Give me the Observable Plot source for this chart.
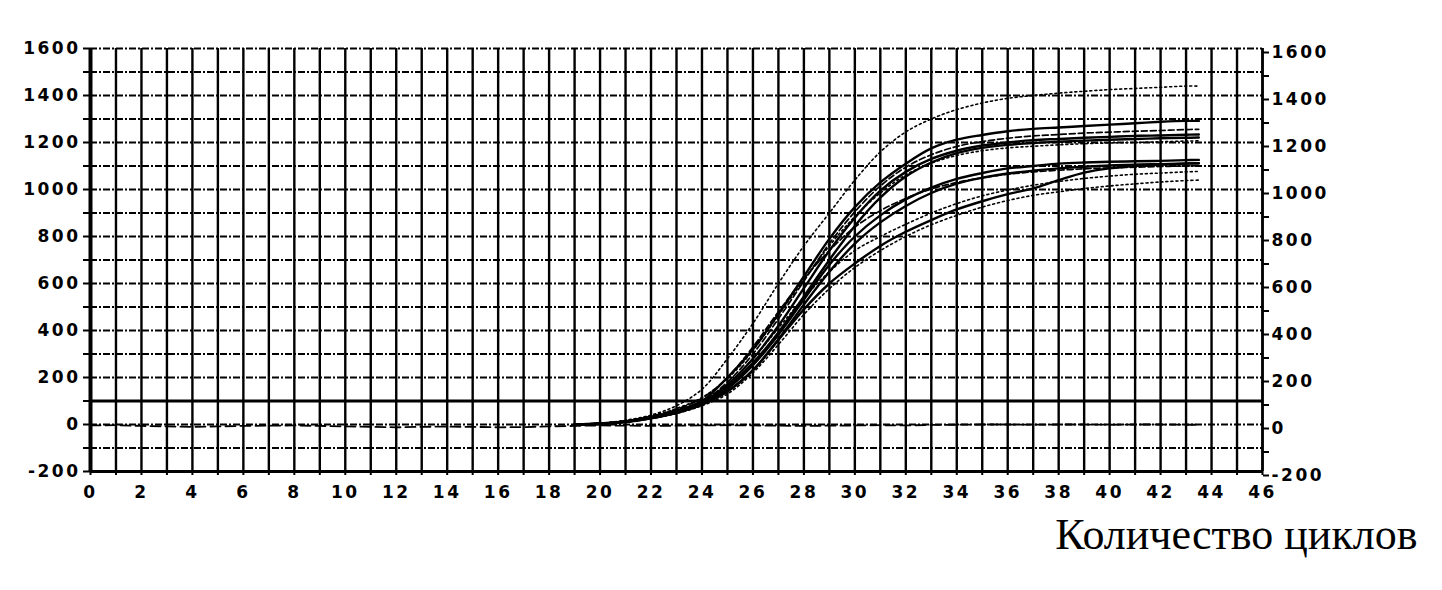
<!DOCTYPE html>
<html>
<head>
<meta charset="utf-8">
<script src="https://cdn.jsdelivr.net/npm/d3@7"></script>
<script src="https://cdn.jsdelivr.net/npm/@observablehq/plot@0.6"></script>
<style>
  html, body { margin: 0; padding: 0; background: #fff; }
  #chart svg { display: block; }
  g[aria-label$="tick label"] text { letter-spacing: 2.5px; }
</style>
</head>
<body>
<div id="chart"></div>
<script>
// ---- tick labels / axes ----
const xLabelTicks = [0, 2, 4, 6, 8, 10, 12, 14, 16, 18, 20, 22, 24, 26, 28, 30, 32, 34, 36, 38, 40, 42, 44, 46];
const yLabelTicks = [-200, 0, 200, 400, 600, 800, 1000, 1200, 1400, 1600];
const xGridLines = d3.range(0, 47, 1);
const yGridLines = d3.range(-200, 1601, 100);
const thresholdValue = [100];
const axisTitle = "Количество циклов";

// ---- data: fluorescence per cycle ----
const cycles = [19, 20, 21, 22, 23, 24, 25, 26, 27, 28, 29, 30, 31, 32, 33, 34, 35, 36, 37, 38, 39, 40, 41, 42, 43, 43.5];

const curveA = [0, 5, 18, 40, 80, 150, 280, 430, 600, 760, 900, 1040, 1160, 1245, 1300, 1340, 1368, 1388, 1400, 1410, 1418, 1425, 1430, 1435, 1440, 1440];
const curveB = [0, 4, 14, 32, 60, 100, 200, 320, 470, 630, 790, 925, 1030, 1110, 1175, 1212, 1232, 1248, 1258, 1264, 1270, 1276, 1282, 1288, 1292, 1292];
const curveC = [0, 4, 13, 30, 58, 98, 180, 300, 450, 610, 770, 905, 1015, 1095, 1148, 1183, 1204, 1218, 1228, 1234, 1240, 1244, 1248, 1251, 1255, 1256];
const curveD = [0, 3, 12, 30, 55, 95, 170, 280, 420, 580, 740, 880, 995, 1075, 1130, 1165, 1187, 1200, 1210, 1215, 1220, 1224, 1228, 1230, 1233, 1234];
const curveE = [0, 3, 12, 28, 53, 92, 160, 262, 392, 545, 700, 845, 965, 1055, 1115, 1155, 1177, 1190, 1198, 1203, 1208, 1212, 1215, 1218, 1220, 1221];
const curveF = [0, 5, 16, 36, 68, 115, 195, 315, 465, 615, 760, 885, 985, 1062, 1112, 1145, 1165, 1177, 1184, 1190, 1195, 1198, 1200, 1203, 1206, 1207];
const curveG = [0, 3, 11, 27, 52, 90, 152, 252, 382, 532, 680, 800, 890, 958, 1008, 1045, 1070, 1090, 1100, 1110, 1115, 1118, 1120, 1122, 1125, 1126];
const curveH = [0, 3, 10, 26, 50, 86, 142, 232, 362, 510, 650, 770, 860, 930, 985, 1025, 1050, 1068, 1080, 1090, 1097, 1102, 1106, 1108, 1111, 1112];
const curveI = [0, 4, 15, 35, 65, 112, 200, 330, 480, 620, 740, 840, 910, 962, 1002, 1030, 1050, 1065, 1075, 1082, 1088, 1092, 1095, 1098, 1100, 1101];
const curveJ = [0, 4, 13, 31, 58, 100, 170, 280, 410, 540, 650, 740, 800, 852, 900, 940, 973, 998, 1018, 1034, 1047, 1057, 1065, 1070, 1075, 1077];
const curveK = [0, 3, 12, 28, 50, 85, 140, 230, 360, 490, 600, 685, 760, 820, 870, 915, 950, 980, 1005, 1040, 1072, 1090, 1100, 1105, 1110, 1112];
const curveL = [0, 3, 10, 25, 47, 80, 130, 220, 340, 468, 578, 668, 740, 800, 850, 890, 925, 953, 975, 990, 1004, 1015, 1024, 1032, 1038, 1040];

const ntcCycles = [0, 1, 2, 3, 4, 5, 6, 7, 8, 9, 10, 11, 12, 13, 14, 15, 16, 17, 18, 19, 20, 21, 22, 23, 24, 25, 26, 27, 28, 29, 30, 31, 32, 33, 34, 35, 36, 37, 38, 39, 40, 41, 42, 43, 43.5];
const ntcValues = [-4, -3, -6, -8, -10, -8, -6, -5, -4, -6, -8, -10, -12, -10, -9, -10, -12, -11, -8, -6, -4, -5, -6, -5, -4, -3, -4, -5, -6, -5, -4, -3, -4, -2, -1, 0, 0, -1, 0, 0, -1, 0, 0, -1, -1];

// ---- styles (kept separate from data) ----
const seriesList = [
  {name: "A", values: curveA, style: "dotted"},
  {name: "B", values: curveB, style: "solid"},
  {name: "C", values: curveC, style: "dashed"},
  {name: "D", values: curveD, style: "solid"},
  {name: "E", values: curveE, style: "solid"},
  {name: "F", values: curveF, style: "dotted"},
  {name: "G", values: curveG, style: "solid"},
  {name: "H", values: curveH, style: "solid"},
  {name: "I", values: curveI, style: "dashed"},
  {name: "J", values: curveJ, style: "dotted"},
  {name: "K", values: curveK, style: "solid"},
  {name: "L", values: curveL, style: "dotted"}
];
const lineStyles = {
  solid:  {strokeWidth: 2.4, strokeDasharray: null},
  dashed: {strokeWidth: 1.7, strokeDasharray: "6,3"},
  dotted: {strokeWidth: 1.6, strokeDasharray: "2,3"}
};

const rows = seriesList.flatMap(s => cycles.map((c, i) => ({series: s.name, style: s.style, cycle: c, value: s.values[i]})));
const ntcRows = ntcCycles.map((c, i) => ({cycle: c, value: ntcValues[i]}));

const styleMarks = Object.keys(lineStyles).map(k =>
  Plot.line(rows.filter(r => r.style === k), {
    x: "cycle", y: "value", z: "series",
    stroke: "black", curve: "catmull-rom",
    strokeWidth: lineStyles[k].strokeWidth,
    strokeDasharray: lineStyles[k].strokeDasharray
  })
);

const yFmt = d => yLabelTicks.includes(d) ? String(d) : "";
const xFmt = d => xLabelTicks.includes(d) ? String(d) : "";

const chart = Plot.plot({
  width: 1442,
  height: 590,
  marginLeft: 90,
  marginRight: 180,
  marginTop: 48,
  marginBottom: 119,
  style: {fontFamily: "DejaVu Sans", fontSize: "17px", fontWeight: "bold", color: "black", background: "white"},
  x: {domain: [0, 46], label: null},
  y: {domain: [-200, 1600], label: null},
  marks: [
    // horizontal dashed grid
    Plot.ruleY(yGridLines, {stroke: "black", strokeWidth: 1.8, strokeDasharray: "7,2,2,2"}),
    // vertical grid
    Plot.ruleX(xGridLines, {stroke: "black", strokeWidth: 2.4}),
    // threshold
    Plot.ruleY(thresholdValue, {stroke: "black", strokeWidth: 3}),
    // frame lines
    Plot.ruleY([-200], {stroke: "black", strokeWidth: 3}),
    Plot.ruleX([0], {stroke: "black", strokeWidth: 4}),
    Plot.ruleX([46], {stroke: "black", strokeWidth: 2.5}),
    // axes
    Plot.axisY({ticks: yGridLines, tickFormat: yFmt, tickSize: 7, tickPadding: 3, strokeWidth: 2}),
    Plot.axisY({anchor: "right", ticks: yGridLines, tickFormat: yFmt, tickSize: 6, tickPadding: 3, dy: 4, strokeWidth: 2}),
    Plot.axisX({ticks: xGridLines, tickFormat: xFmt, tickSize: 4, tickPadding: 10, strokeWidth: 2}),
    // negative control baseline
    Plot.line(ntcRows, {x: "cycle", y: "value", stroke: "black", strokeWidth: 1.8, strokeDasharray: "10,5"}),
    // amplification curves
    ...styleMarks,
    // axis title
    Plot.text([axisTitle], {
      frameAnchor: "bottom-right", dx: 155, dy: 77,
      fontFamily: "Liberation Serif", fontSize: 44, fontWeight: "normal",
      textAnchor: "end", fill: "black"
    })
  ]
});
document.getElementById("chart").appendChild(chart);
</script>
</body>
</html>
